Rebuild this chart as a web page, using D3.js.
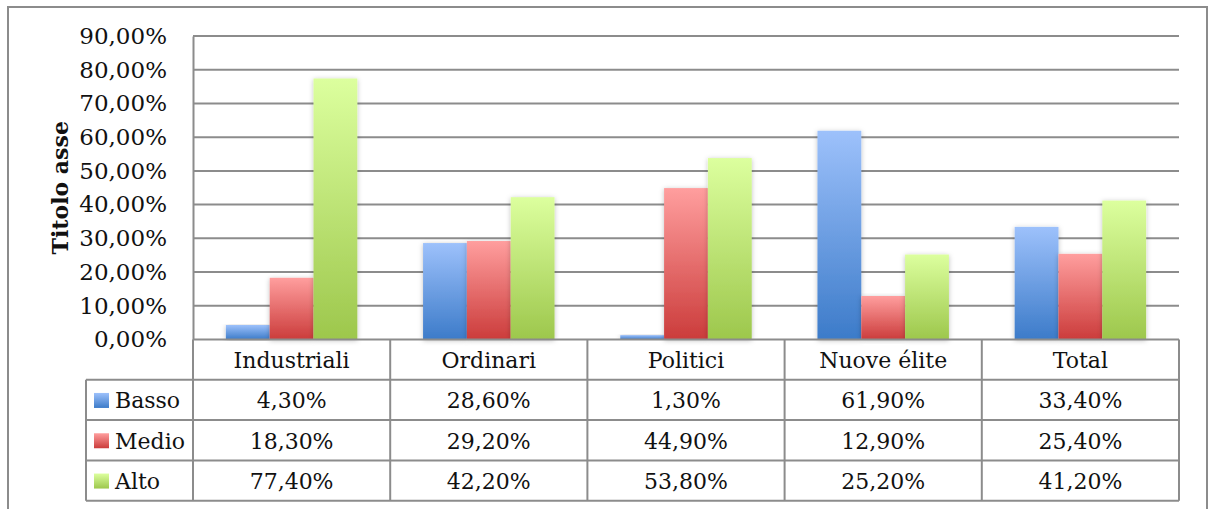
<html>
<head>
<script src="https://d3js.org/d3.v7.min.js"></script>
<style>
  body { margin: 0; background: #fff; }
  text { font-family: "DejaVu Serif", serif; fill: #111; }
</style>
</head>
<body>
<svg id="chart" width="1209" height="509"></svg>
<script>
  // data
  var categories = ["Industriali", "Ordinari", "Politici", "Nuove élite", "Total"];
  var seriesNames = ["Basso", "Medio", "Alto"];
  var basso = [4.3, 28.6, 1.3, 61.9, 33.4];
  var medio = [18.3, 29.2, 44.9, 12.9, 25.4];
  var alto  = [77.4, 42.2, 53.8, 25.2, 41.2];
  var yTicks = [0, 10, 20, 30, 40, 50, 60, 70, 80, 90];
  var axisTitle = "Titolo asse";

  var seriesValues = [basso, medio, alto];
  var colors = [
    {top: "#9dc1fb", bottom: "#3c7bc9"},
    {top: "#ff9e9e", bottom: "#cb3c3b"},
    {top: "#dcff9e", bottom: "#9dc74c"}
  ];

  var fmt = function(d) { return d.toFixed(2).replace(".", ",") + "%"; };

  var plot = {left: 193, right: 1179, top: 36, bottom: 339.5};
  var rowH = 40.3;
  var tableLeft = 86;
  var grid = "#8c8c8c";

  var svg = d3.select("#chart");

  // outer frame
  svg.append("rect")
    .attr("x", 8).attr("y", 7)
    .attr("width", 1199).attr("height", 520)
    .attr("fill", "none").attr("stroke", grid).attr("stroke-width", 2);

  var defs = svg.append("defs");
  colors.forEach(function(c, i) {
    var g = defs.append("linearGradient")
      .attr("id", "grad" + i)
      .attr("x1", 0).attr("y1", 0).attr("x2", 0).attr("y2", 1);
    g.append("stop").attr("offset", "0%").attr("stop-color", c.top);
    g.append("stop").attr("offset", "100%").attr("stop-color", c.bottom);
  });
  var f = defs.append("filter").attr("id", "shadow")
    .attr("x", "-20%").attr("y", "-5%").attr("width", "140%").attr("height", "115%");
  f.append("feDropShadow").attr("dx", 0).attr("dy", 1).attr("stdDeviation", 2.5)
    .attr("flood-color", "#000").attr("flood-opacity", 0.25);

  var x0 = d3.scaleBand()
    .domain(categories)
    .range([plot.left, plot.right])
    .padding(0);

  var x1 = d3.scaleBand()
    .domain(seriesNames)
    .range([0, x0.bandwidth()])
    .paddingInner(0)
    .paddingOuter(0.75);

  var y = d3.scaleLinear()
    .domain([0, 90])
    .range([plot.bottom, plot.top]);

  // gridlines
  svg.append("g")
    .selectAll("line")
    .data(yTicks.slice(1))
    .join("line")
      .attr("x1", plot.left).attr("x2", plot.right)
      .attr("y1", function(d) { return y(d); })
      .attr("y2", function(d) { return y(d); })
      .attr("stroke", grid).attr("stroke-width", 2);

  // y axis
  var yAxis = svg.append("g")
    .attr("transform", "translate(" + plot.left + ",0)")
    .call(d3.axisLeft(y).tickValues(yTicks).tickSize(0).tickPadding(26).tickFormat(fmt));
  yAxis.select(".domain").attr("stroke", grid).attr("stroke-width", 2);
  yAxis.selectAll("text")
    .style("font-family", "DejaVu Serif")
    .attr("font-size", 23)
    .attr("fill", "#111");

  svg.append("text")
    .attr("transform", "translate(60," + ((plot.top + plot.bottom) / 2) + ") rotate(-90)")
    .attr("text-anchor", "middle")
    .attr("dominant-baseline", "central")
    .attr("font-size", 22)
    .attr("font-weight", "bold")
    .text(axisTitle);

  // bars
  var groups = svg.append("g")
    .selectAll("g")
    .data(categories)
    .join("g")
      .attr("transform", function(d) { return "translate(" + x0(d) + ",0)"; });

  groups.selectAll("rect")
    .data(function(d, i) {
      return seriesNames.map(function(s, j) { return {s: s, j: j, v: seriesValues[j][i]}; });
    })
    .join("rect")
      .attr("x", function(d) { return x1(d.s); })
      .attr("y", function(d) { return y(d.v); })
      .attr("width", x1.bandwidth())
      .attr("height", function(d) { return y(0) - y(d.v); })
      .attr("fill", function(d) { return "url(#grad" + d.j + ")"; })
      .attr("filter", "url(#shadow)");

  // data table
  var table = svg.append("g");
  var tableBottom = plot.bottom + rowH * 4;

  // x axis / header top
  table.append("line")
    .attr("x1", plot.left).attr("x2", plot.right)
    .attr("y1", plot.bottom).attr("y2", plot.bottom)
    .attr("stroke", grid).attr("stroke-width", 2);

  // horizontal row lines
  table.selectAll("line.row")
    .data(d3.range(1, 5))
    .join("line")
      .attr("class", "row")
      .attr("x1", tableLeft).attr("x2", plot.right)
      .attr("y1", function(d) { return plot.bottom + rowH * d; })
      .attr("y2", function(d) { return plot.bottom + rowH * d; })
      .attr("stroke", grid).attr("stroke-width", 2);

  // vertical lines
  var vx = categories.map(function(c) { return x0(c); }).concat([plot.right]);
  table.selectAll("line.col")
    .data(vx)
    .join("line")
      .attr("class", "col")
      .attr("x1", function(d) { return d; }).attr("x2", function(d) { return d; })
      .attr("y1", plot.bottom).attr("y2", tableBottom)
      .attr("stroke", grid).attr("stroke-width", 2);
  table.append("line")
    .attr("x1", tableLeft).attr("x2", tableLeft)
    .attr("y1", plot.bottom + rowH).attr("y2", tableBottom)
    .attr("stroke", grid).attr("stroke-width", 2);

  // category headers
  table.selectAll("text.cat")
    .data(categories)
    .join("text")
      .attr("class", "cat")
      .attr("x", function(d) { return x0(d) + x0.bandwidth() / 2; })
      .attr("y", plot.bottom + rowH / 2 + 1)
      .attr("text-anchor", "middle")
      .attr("dominant-baseline", "central")
      .attr("font-size", 22)
      .text(function(d) { return d; });

  // rows
  seriesNames.forEach(function(s, j) {
    var cy = plot.bottom + rowH * (j + 1) + rowH / 2 + 1;
    table.append("rect")
      .attr("x", 94).attr("y", cy - 8)
      .attr("width", 15).attr("height", 15)
      .attr("fill", "url(#grad" + j + ")");
    table.append("text")
      .attr("x", 115).attr("y", cy)
      .attr("dominant-baseline", "central")
      .attr("font-size", 22)
      .text(s);
    table.selectAll("text.v" + j)
      .data(seriesValues[j])
      .join("text")
        .attr("class", "v" + j)
        .attr("x", function(d, i) { return x0(categories[i]) + x0.bandwidth() / 2; })
        .attr("y", cy)
        .attr("text-anchor", "middle")
        .attr("dominant-baseline", "central")
        .attr("font-size", 22)
        .text(function(d) { return fmt(d); });
  });
</script>
</body>
</html>
